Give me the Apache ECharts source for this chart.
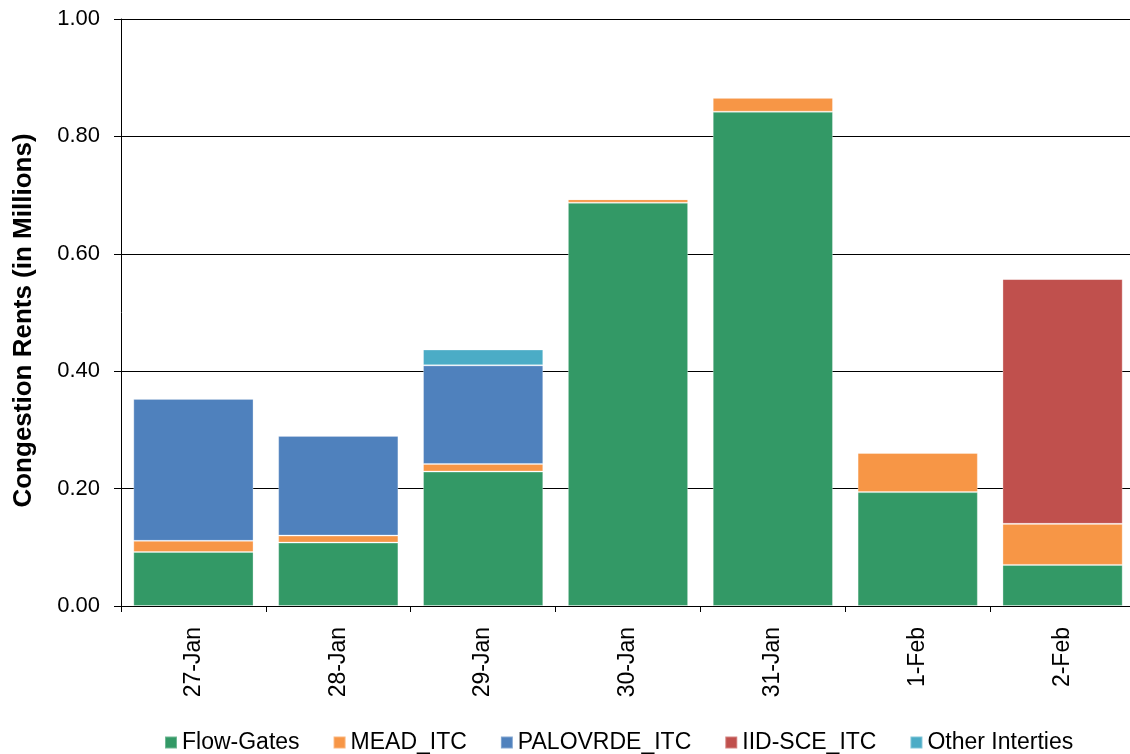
<!DOCTYPE html>
<html>
<head>
<meta charset="utf-8">
<script src="https://cdn.jsdelivr.net/npm/echarts@6/dist/echarts.min.js"></script>
<style>
  html, body { margin: 0; padding: 0; background: #fff; overflow: hidden; }
  /* a bit wider than the window: the plot runs past the right edge in the original */
  #chart { width: 1140px; height: 760px; }
</style>
</head>
<body>
<div id="chart"></div>
<script>
// dates and stacked congestion rents (millions)
const categories = ['27-Jan', '28-Jan', '29-Jan', '30-Jan', '31-Jan', '1-Feb', '2-Feb'];
const flowGates = [0.092, 0.108, 0.229, 0.687, 0.842, 0.194, 0.070];
const meadItc = [0.019, 0.012, 0.013, 0.006, 0.024, 0.067, 0.070];
const palovrdeItc = [0.242, 0.170, 0.168, 0, 0, 0, 0];
const iidSceItc = [0, 0, 0, 0, 0, 0, 0.417];
const otherInterties = [0, 0, 0.027, 0, 0, 0, 0];

const names = ['Flow-Gates', 'MEAD_ITC', 'PALOVRDE_ITC', 'IID-SCE_ITC', 'Other Interties'];
const colors = ['#339966', '#F79646', '#4F81BD', '#C0504D', '#4BACC6'];
const values = [flowGates, meadItc, palovrdeItc, iidSceItc, otherInterties];

const font = '"Liberation Sans", Arial, sans-serif';

const chart = echarts.init(document.getElementById('chart'));
chart.setOption({
  animation: false,
  color: colors,
  grid: { left: 121, right: 5, top: 19, bottom: 154, containLabel: false },
  legend: {
    left: 159,
    top: 726,
    itemWidth: 12,
    itemHeight: 12,
    itemGap: 33,
    icon: 'rect',
    textStyle: { fontFamily: font, fontSize: 23, color: '#000' },
    data: names,
  },
  xAxis: {
    type: 'category',
    data: categories,
    axisLine: { lineStyle: { color: '#000', width: 1 } },
    axisTick: { show: true, length: 6, lineStyle: { color: '#000' } },
    axisLabel: { rotate: 90, margin: 21, fontFamily: font, fontSize: 23, color: '#000' },
  },
  yAxis: {
    type: 'value',
    min: 0,
    max: 1,
    interval: 0.2,
    name: 'Congestion Rents (in Millions)',
    nameLocation: 'middle',
    nameGap: 84,
    nameTextStyle: {
      fontFamily: font, fontSize: 26, fontWeight: 'bold', color: '#000',
      padding: [0, 16, 0, 0],
    },
    axisLine: { show: true, lineStyle: { color: '#000' } },
    axisTick: { show: true, length: 7, lineStyle: { color: '#000' } },
    splitLine: { lineStyle: { color: '#000', width: 1 } },
    axisLabel: {
      margin: 21,
      fontFamily: font,
      fontSize: 22,
      color: '#000',
      formatter: (v) => v.toFixed(2),
    },
  },
  series: names.map((n, i) => ({
    name: n,
    type: 'bar',
    stack: 'total',
    barCategoryGap: '17%',
    data: values[i],
    itemStyle: { color: colors[i], borderColor: 'rgba(255,255,255,0.3)', borderWidth: 1 },
  })),
});
</script>
</body>
</html>
